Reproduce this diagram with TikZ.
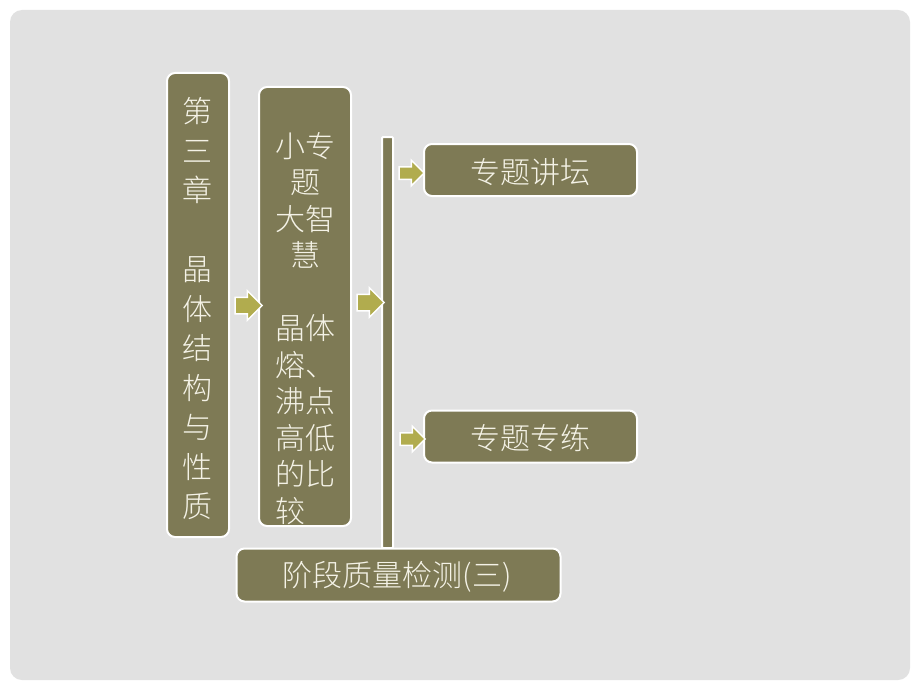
\documentclass[tikz,border=0pt]{standalone}
\usepackage{fontspec}
\newfontfamily\cjk{Noto Sans CJK SC}[UprightFont={* Light}]
\usetikzlibrary{shapes.arrows}
\definecolor{boxc}{HTML}{7E7A55}
\definecolor{arrc}{HTML}{B1AC4E}
\definecolor{panel}{HTML}{E1E1E1}
\definecolor{txtc}{HTML}{F4F2E6}
\tikzset{
  olivebox/.style={fill=boxc, draw=white, line width=2pt, rounded corners=8pt, inner sep=0pt},
  boxtext/.style={text=txtc, align=center, inner sep=0pt, font=\cjk\fontsize{30}{39.5}\selectfont},
  bigarrow/.style={single arrow, fill=arrc, draw=white, line width=1.5pt, inner xsep=0pt, inner ysep=7.5pt, single arrow head extend=6.5pt, minimum height=27pt},
  smallarrow/.style={single arrow, fill=arrc, draw=white, line width=1.5pt, inner xsep=0pt, inner ysep=5.5pt, single arrow head extend=6.5pt, minimum height=25pt}
}
\begin{document}
\begin{tikzpicture}[x=1pt,y=-1pt]
\useasboundingbox (0,0) rectangle (920,690);
\fill[white] (0,0) rectangle (920,690);
\fill[panel, rounded corners=12pt] (10,10) rectangle (910,680);
% boxes
\node[olivebox, minimum width=62pt, minimum height=464pt] (b1) at (198,305) {};
\node[olivebox, minimum width=92pt, minimum height=439pt] (b2) at (305,306.5) {};
\node[olivebox, rounded corners=1pt, minimum width=11pt, minimum height=411pt] (bar) at (387.5,342.5) {};
\node[olivebox, minimum width=213pt, minimum height=52pt] (b3) at (530.5,170) {};
\node[olivebox, minimum width=213pt, minimum height=52pt] (b4) at (530.5,436.5) {};
\node[olivebox, minimum width=324pt, minimum height=53pt] (b5) at (398.5,575) {};
% texts
\node[boxtext] (t1) at (197,309) {第\\三\\章\\\mbox{}\\晶\\体\\结\\构\\与\\性\\质};
\node[boxtext, font=\cjk\fontsize{30}{36.5}\selectfont] (t2) at (305,328.5) {小专\\题\\大智\\慧\\\mbox{}\\晶体\\熔、\\沸点\\高低\\的比\\较\phantom{较}};
\node[boxtext] (t3) at (530,172) {专题讲坛};
\node[boxtext] (t4) at (530,438) {专题专练};
\node[boxtext] (t5) at (397,577) {阶段质量检测(三)};
% arrows
\node[bigarrow] (a1) at (244.5,305.5) {};
\node[bigarrow] (a2) at (366.5,302.5) {};
\node[smallarrow] (a3) at (408.5,173) {};
\node[smallarrow] (a4) at (409.5,439) {};
\end{tikzpicture}
\end{document}
